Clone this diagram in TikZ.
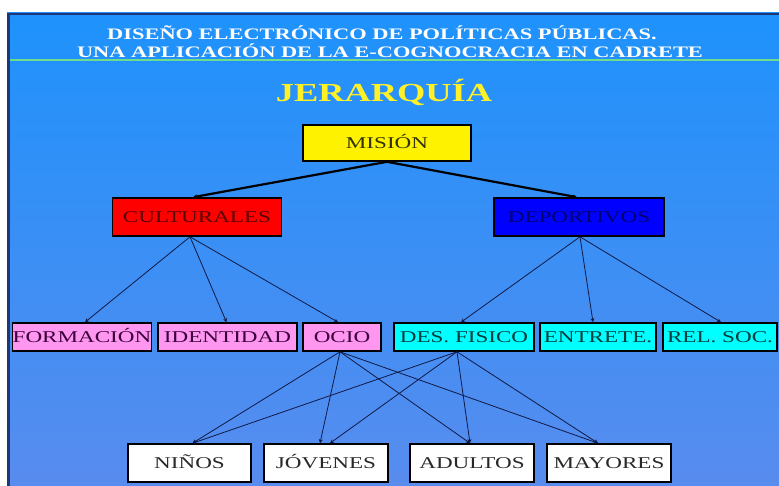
\documentclass[tikz,border=0pt]{standalone}
\usepackage{fontspec}
\setmainfont[FakeStretch=1.4]{Liberation Serif}
\usetikzlibrary{arrows.meta}
\definecolor{bgtop}{RGB}{30,146,252}
\definecolor{bgbot}{RGB}{88,140,238}
\definecolor{frame}{RGB}{30,55,120}
\definecolor{gline}{RGB}{110,220,140}
\definecolor{pinkf}{RGB}{255,150,240}
\definecolor{cyanf}{RGB}{0,255,255}
\definecolor{edgec}{RGB}{15,25,70}
\tikzset{
  box/.style={draw=black, line width=1.6pt, inner sep=0pt, text height=11.5pt, text depth=0pt, font=\fontsize{16.5}{16.5}\selectfont},
  top/.style={line width=2.2pt, draw=black, -{Stealth[length=4pt,width=4pt]}},
  edge/.style={line width=0.8pt, draw=edgec, -{Stealth[length=4pt,width=4pt]}},
  title/.style={text=white, font=\bfseries\fontsize{16}{16}\selectfont}
}
\begin{document}
\begin{tikzpicture}[x=1pt,y=-1pt]
\useasboundingbox (0,0) rectangle (779,486);
\fill[white] (0,0) rectangle (779,486);
\shade[top color=bgtop, bottom color=bgbot] (7,13) rectangle (779,486);
\fill[frame] (7,13) rectangle (779,15.5);
\fill[frame] (7,13) rectangle (9.5,486);
\draw[gline, line width=2pt] (9.5,60) -- (779,60);

\node[title] (t1) at (382,33) {DISEÑO ELECTRÓNICO DE POLÍTICAS PÚBLICAS.};
\node[title] (t2) at (390,51) {UNA APLICACIÓN DE LA E-COGNOCRACIA EN CADRETE};
\node[text={rgb,255:red,255;green,240;blue,40}, font=\bfseries\fontsize{26}{26}\selectfont] (jer) at (384,92) {JERARQUÍA};

% level 1
\node[box, fill=yellow, text={rgb,255:red,50;green,50;blue,0}, minimum width=168pt, minimum height=36pt] (mis) at (387,143) {MISIÓN};
% level 2
\node[box, fill={rgb,255:red,255;green,0;blue,0}, text={rgb,255:red,90;green,0;blue,0}, minimum width=169pt, minimum height=38pt] (cul) at (197,217) {CULTURALES};
\node[box, fill={rgb,255:red,0;green,0;blue,255}, text={rgb,255:red,0;green,0;blue,110}, minimum width=170pt, minimum height=38pt] (dep) at (579,217) {DEPORTIVOS};
% level 3
\node[box, fill=pinkf, text={rgb,255:red,60;green,0;blue,60}, minimum width=138pt, minimum height=28pt] (for) at (82,337) {FORMACIÓN};
\node[box, fill=pinkf, text={rgb,255:red,60;green,0;blue,60}, minimum width=139pt, minimum height=28pt] (ide) at (227.5,337) {IDENTIDAD};
\node[box, fill=pinkf, text={rgb,255:red,60;green,0;blue,60}, minimum width=78pt, minimum height=28pt] (oci) at (342,337) {OCIO};
\node[box, fill=cyanf, text={rgb,255:red,0;green,60;blue,60}, minimum width=140pt, minimum height=28pt] (des) at (464,337) {DES. FISICO};
\node[box, fill=cyanf, text={rgb,255:red,0;green,60;blue,60}, minimum width=116pt, minimum height=28pt] (ent) at (598,337) {ENTRETE.};
\node[box, fill=cyanf, text={rgb,255:red,0;green,60;blue,60}, minimum width=114pt, minimum height=28pt] (rel) at (720,337) {REL. SOC.};
% level 4
\node[box, fill=white, text={rgb,255:red,40;green,40;blue,40}, minimum width=123pt, minimum height=38pt] (nin) at (189.5,463) {NIÑOS};
\node[box, fill=white, text={rgb,255:red,40;green,40;blue,40}, minimum width=124pt, minimum height=38pt] (jov) at (326,463) {JÓVENES};
\node[box, fill=white, text={rgb,255:red,40;green,40;blue,40}, minimum width=124pt, minimum height=38pt] (adu) at (472,463) {ADULTOS};
\node[box, fill=white, text={rgb,255:red,40;green,40;blue,40}, minimum width=124pt, minimum height=38pt] (may) at (609,463) {MAYORES};

% connectors
\draw[top] (mis.south) -- ([xshift=-4pt]cul.north);
\draw[top] (mis.south) -- ([xshift=-2pt]dep.north);

\draw[edge] ([xshift=-7pt]cul.south) -- ([xshift=3pt]for.north);
\draw[edge] ([xshift=-7pt]cul.south) -- ([xshift=-1pt]ide.north);
\draw[edge] ([xshift=-7pt]cul.south) -- ([xshift=-4pt]oci.north);

\draw[edge] ([xshift=1pt]dep.south) -- ([xshift=-3pt]des.north);
\draw[edge] ([xshift=1pt]dep.south) -- ([xshift=-5pt]ent.north);
\draw[edge] ([xshift=1pt]dep.south) -- ([xshift=1pt]rel.north);

\draw[edge] ([xshift=-2pt]oci.south) -- ([xshift=3pt]nin.north);
\draw[edge] ([xshift=-2pt]oci.south) -- ([xshift=-6pt]jov.north);
\draw[edge] ([xshift=-2pt]oci.south) -- ([xshift=-2pt]adu.north);
\draw[edge] ([xshift=-2pt]oci.south) -- ([xshift=-11pt]may.north);
\draw[edge] ([xshift=-7pt]des.south) -- ([xshift=3pt]nin.north);
\draw[edge] ([xshift=-7pt]des.south) -- ([xshift=4pt]jov.north);
\draw[edge] ([xshift=-7pt]des.south) -- ([xshift=-2pt]adu.north);
\draw[edge] ([xshift=-7pt]des.south) -- ([xshift=-11pt]may.north);
\end{tikzpicture}
\end{document}
